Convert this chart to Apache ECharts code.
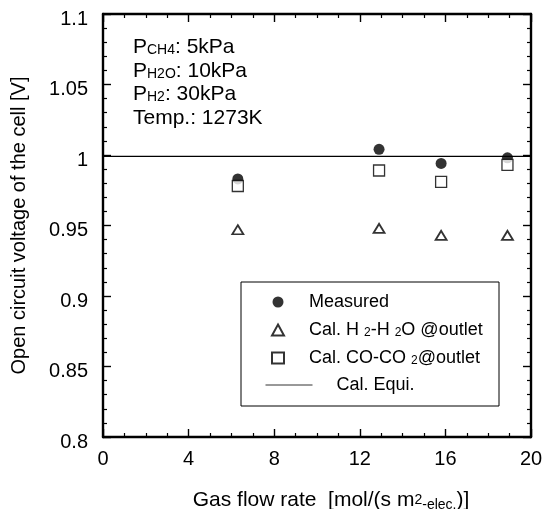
<!DOCTYPE html>
<html>
<head>
<meta charset="utf-8">
<script src="https://cdn.jsdelivr.net/npm/echarts@6/dist/echarts.min.js"></script>
<style>
  html, body { margin: 0; padding: 0; background: #fff; }
  #chart { width: 543px; height: 509px; }
</style>
</head>
<body>
<div id="chart"></div>
<script>
// Gas flow rate [mol/(s m2-elec.)] at each test point
const flowRate = [6.3, 12.9, 15.8, 18.9];
// Open circuit voltage [V]
const measured = [0.983, 1.004, 0.994, 0.998];
const calH2H2O = [0.947, 0.948, 0.943, 0.943];
const calCOCO2 = [0.978, 0.989, 0.981, 0.993];
// Equilibrium voltage, drawn across the whole flow-rate range
const equiFlow = [0, 20];
const equiVoltage = [0.999, 0.999];

// Axis ranges and tick steps
const xRange = [0, 20];
const xStep = 4;
const yRange = [0.8, 1.1];
const yStep = 0.05;

// Operating conditions
const condGas = ['CH4', 'H2O', 'H2'];
const condPressure = ['5kPa', '10kPa', '30kPa'];
const condTemp = '1273K';

const seriesNames = ['Measured', 'Cal. H2-H2O @outlet', 'Cal. CO-CO2@outlet', 'Cal. Equi.'];
const legendRich = {
  'Measured': '{t|Measured}',
  'Cal. H2-H2O @outlet': '{t|Cal. H }{s|2}{t|-H }{s|2}{t|O @outlet}',
  'Cal. CO-CO2@outlet': '{t|Cal. CO-CO }{s|2}{t|@outlet}',
  'Cal. Equi.': '{t|Cal. Equi.}'
};

const FONT = '"Liberation Sans", Arial, Helvetica, sans-serif';
const BLACK = '#000';

const chart = echarts.init(document.getElementById('chart'), null, { renderer: 'canvas' });

const pairs = (xs, ys) => xs.map((x, i) => [x, ys[i]]);

const tickStyle = { show: true, inside: true, length: 8, lineStyle: { color: BLACK, width: 1.4 } };
const minorStyle = (n) => ({ show: true, splitNumber: n, length: 4, lineStyle: { color: BLACK, width: 1.2 } });
const lineStyle = { show: true, onZero: false, lineStyle: { color: BLACK, width: 2.4 } };

const legendText = {
  fontFamily: FONT, fontSize: 18, color: BLACK, lineHeight: 18,
  rich: {
    t: { fontFamily: FONT, fontSize: 18, color: BLACK, lineHeight: 18 },
    s: { fontFamily: FONT, fontSize: 12, color: BLACK, lineHeight: 12, verticalAlign: 'bottom' }
  }
};

const condText = condGas.map((g, i) => `{p|P}{s|${g}}{p|: ${condPressure[i]}}`)
  .concat([`{p|Temp.: ${condTemp}}`]).join('\n');

chart.setOption({
  backgroundColor: '#fff',
  animation: false,
  grid: { left: 103, right: 12, top: 14, bottom: 72, containLabel: false, outerBoundsMode: 'none' },
  xAxis: [{
    type: 'value', min: xRange[0], max: xRange[1], interval: xStep,
    position: 'bottom',
    axisLine: lineStyle, axisTick: tickStyle, minorTick: minorStyle(4),
    splitLine: { show: false },
    axisLabel: { color: BLACK, fontFamily: FONT, fontSize: 20, margin: 12 },
    name: '{t|Gas flow rate  [mol/(s m}{p|2}{s|-elec.}{t|)]}',
    nameLocation: 'middle', nameGap: 51,
    nameTextStyle: {
      padding: [0, 0, 0, 28],
      rich: {
        t: { fontFamily: FONT, fontSize: 21, color: BLACK, lineHeight: 24 },
        p: { fontFamily: FONT, fontSize: 14, color: BLACK, lineHeight: 14, verticalAlign: 'bottom', padding: [0, 0, 5, 0] },
        s: { fontFamily: FONT, fontSize: 14, color: BLACK, lineHeight: 14, verticalAlign: 'bottom' }
      }
    }
  }, {
    type: 'value', min: xRange[0], max: xRange[1], interval: xStep,
    position: 'top',
    axisLine: lineStyle, axisTick: tickStyle, minorTick: minorStyle(4),
    splitLine: { show: false }, axisLabel: { show: false }
  }],
  yAxis: [{
    type: 'value', min: yRange[0], max: yRange[1], interval: yStep,
    position: 'left',
    axisLine: lineStyle, axisTick: tickStyle, minorTick: minorStyle(5),
    splitLine: { show: false },
    axisLabel: {
      color: BLACK, fontFamily: FONT, fontSize: 20, margin: 15,
      verticalAlign: 'top', lineHeight: 10,
      formatter: (v) => String(+v.toFixed(2))
    },
    name: 'Open circuit voltage of the cell [V]',
    nameLocation: 'middle', nameGap: 74, nameRotate: 90,
    nameTextStyle: { fontFamily: FONT, fontSize: 20, color: BLACK }
  }, {
    type: 'value', min: yRange[0], max: yRange[1], interval: yStep,
    position: 'right',
    axisLine: lineStyle, axisTick: tickStyle, minorTick: minorStyle(5),
    splitLine: { show: false }, axisLabel: { show: false }
  }],
  legend: [{
    data: seriesNames.slice(0, 3),
    orient: 'vertical', left: 271, top: 293, padding: 0,
    itemWidth: 12, itemHeight: 11, itemGap: 10,
    selectedMode: false,
    formatter: (n) => legendRich[n],
    textStyle: Object.assign({ padding: [0, 0, 0, 20] }, legendText)
  }, {
    data: [{ name: seriesNames[3], itemStyle: { opacity: 0 } }],
    orient: 'vertical', left: 265, top: 376, padding: 0,
    itemWidth: 47, itemHeight: 12,
    selectedMode: false,
    formatter: (n) => legendRich[n],
    lineStyle: { color: '#333', width: 1 },
    textStyle: Object.assign({ padding: [0, 0, 0, 19] }, legendText)
  }],
  graphic: [{
    type: 'rect',
    shape: { x: 241, y: 282, width: 258, height: 124 },
    style: { fill: 'none', stroke: BLACK, lineWidth: 1 },
    silent: true
  }, {
    type: 'text', left: 133, top: 37, silent: true,
    style: {
      text: condText,
      fill: BLACK,
      rich: {
        p: { fontFamily: FONT, fontSize: 21, fill: BLACK, lineHeight: 23.5 },
        s: { fontFamily: FONT, fontSize: 14, fill: BLACK, lineHeight: 14, verticalAlign: 'bottom', padding: [0, 0, 2, 0] }
      }
    }
  }],
  series: [{
    name: seriesNames[0], type: 'scatter',
    data: pairs(flowRate, measured),
    symbol: 'circle', symbolSize: 11,
    itemStyle: { color: BLACK, borderWidth: 0 },
    z: 3
  }, {
    name: seriesNames[1], type: 'scatter',
    data: pairs(flowRate, calH2H2O),
    symbol: 'triangle', symbolSize: [11, 9],
    itemStyle: { color: '#fff', borderColor: BLACK, borderWidth: 1.8 },
    z: 4
  }, {
    name: seriesNames[2], type: 'scatter',
    data: pairs(flowRate, calCOCO2),
    symbol: 'rect', symbolSize: 11,
    itemStyle: { color: '#fff', borderColor: BLACK, borderWidth: 1.3 },
    z: 5
  }, {
    name: seriesNames[3], type: 'line',
    data: pairs(equiFlow, equiVoltage),
    symbol: 'none',
    lineStyle: { color: BLACK, width: 1.2 },
    itemStyle: { color: BLACK },
    z: 2
  }]
});
</script>
</body>
</html>
